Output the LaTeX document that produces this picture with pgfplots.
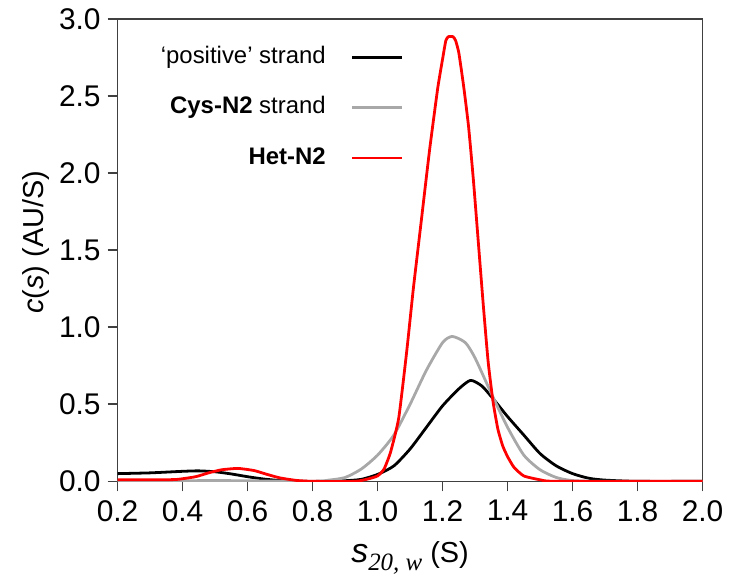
\documentclass[border=0pt]{standalone}
\usepackage{fontspec}
\setmainfont{Liberation Sans}
\newfontfamily\serifit{Liberation Serif}
\usepackage{pgfplots}
\pgfplotsset{compat=1.18}
\definecolor{lgray}{RGB}{168,168,168}
\begin{document}
\begin{tikzpicture}
\begin{axis}[
  scale only axis, width=293.5pt, height=232pt,
  xmin=0.2, xmax=2.0, ymin=0, ymax=3.0,
  xtick={0.2,0.4,...,2.0}, ytick={0,0.5,...,3.0},
  /pgf/number format/assume math mode=true,
  /pgf/number format/fixed, /pgf/number format/fixed zerofill, /pgf/number format/precision=1,
  tick align=outside, tick pos=left, major tick length=5pt,
  axis line style={black!75, line width=0.8pt},
  tick style={black!75, line width=0.8pt},
  ticklabel style={font=\fontsize{15}{18}\selectfont},
  xticklabel style={yshift=-1pt},
  xlabel={\fontsize{17}{20}\selectfont\textit{s}\raisebox{-0.45ex}{\serifit\itshape\fontsize{12.5}{14}\selectfont 20, w}\fontsize{14.5}{17}\selectfont\ (S)},
  ylabel={\fontsize{14.5}{17}\selectfont\textit{c}(\textit{s}) (AU/S)},
  xlabel style={at={(axis description cs:0.5,-0.166)}, anchor=center},
  ylabel style={at={(axis description cs:-0.1397,0.517)}, anchor=center},
  legend plot pos=right,
  legend cell align=right,
  legend image code/.code={\draw[#1] (0pt,0pt) -- (25pt,0pt);},
  legend style={draw=none, fill=none, at={(0.489,0.944)}, anchor=north east,
    font=\fontsize{12}{14}\selectfont, inner sep=0pt,
    nodes={inner sep=0pt, text height=9pt, text depth=3pt},
    /tikz/row sep=13.3pt, /tikz/column sep=12.5pt},
  every axis plot/.append style={line width=1.4pt, line join=round},
]
\addplot[black, smooth, tension=0.4] coordinates {
(0.2,0.05) (0.3,0.055) (0.4,0.065) (0.45,0.068) (0.5,0.062) (0.55,0.048) (0.6,0.03)
(0.65,0.015) (0.7,0.005) (0.75,0.0) (0.85,0.0) (0.9,0.004) (0.95,0.013) (1.0,0.045)
(1.05,0.1) (1.1,0.21) (1.15,0.35) (1.2,0.49) (1.25,0.6) (1.286,0.655) (1.32,0.62)
(1.35,0.55) (1.4,0.42) (1.45,0.3) (1.5,0.18) (1.55,0.1) (1.6,0.05) (1.65,0.02)
(1.7,0.008) (1.8,0.0) (2.0,0.0)};
\addlegendentry{‘positive’ strand}
\addplot[lgray, smooth, tension=0.4] coordinates {
(0.2,0.0) (0.5,0.005) (0.8,0.0) (0.85,0.008) (0.9,0.025) (0.95,0.08) (1.0,0.17)
(1.05,0.3) (1.1,0.5) (1.15,0.72) (1.2,0.9) (1.23,0.94) (1.27,0.9) (1.3,0.8)
(1.35,0.57) (1.4,0.35) (1.45,0.17) (1.5,0.075) (1.55,0.025) (1.6,0.005) (1.7,0.0) (2.0,0.0)};
\addlegendentry{\textbf{Cys-N2} strand}
\addplot[red, smooth, tension=0.3] coordinates {
(0.2,0.01) (0.3,0.01) (0.38,0.012) (0.44,0.03) (0.48,0.055) (0.52,0.075) (0.57,0.084)
(0.62,0.07) (0.66,0.045) (0.7,0.022) (0.75,0.006) (0.8,0.0) (0.93,0.0) (0.97,0.015)
(1.0,0.035) (1.02,0.08) (1.04,0.19) (1.065,0.41) (1.09,0.85) (1.11,1.25) (1.135,1.70)
(1.16,2.15) (1.185,2.55) (1.2,2.74) (1.21,2.86) (1.218,2.885) (1.232,2.885) (1.24,2.86)
(1.25,2.78) (1.265,2.56) (1.28,2.3) (1.295,1.95) (1.31,1.55) (1.325,1.15) (1.34,0.78)
(1.355,0.52) (1.37,0.34) (1.385,0.23) (1.40,0.16) (1.42,0.09) (1.45,0.035) (1.5,0.01)
(1.55,0.0) (2.0,0.0)};
\addlegendentry{\textbf{Het-N2}}
\end{axis}
\path ([xshift=-59pt,yshift=-48.5pt]current axis.south west) rectangle ([xshift=12.5pt,yshift=9.5pt]current axis.north east);
\end{tikzpicture}
\end{document}
